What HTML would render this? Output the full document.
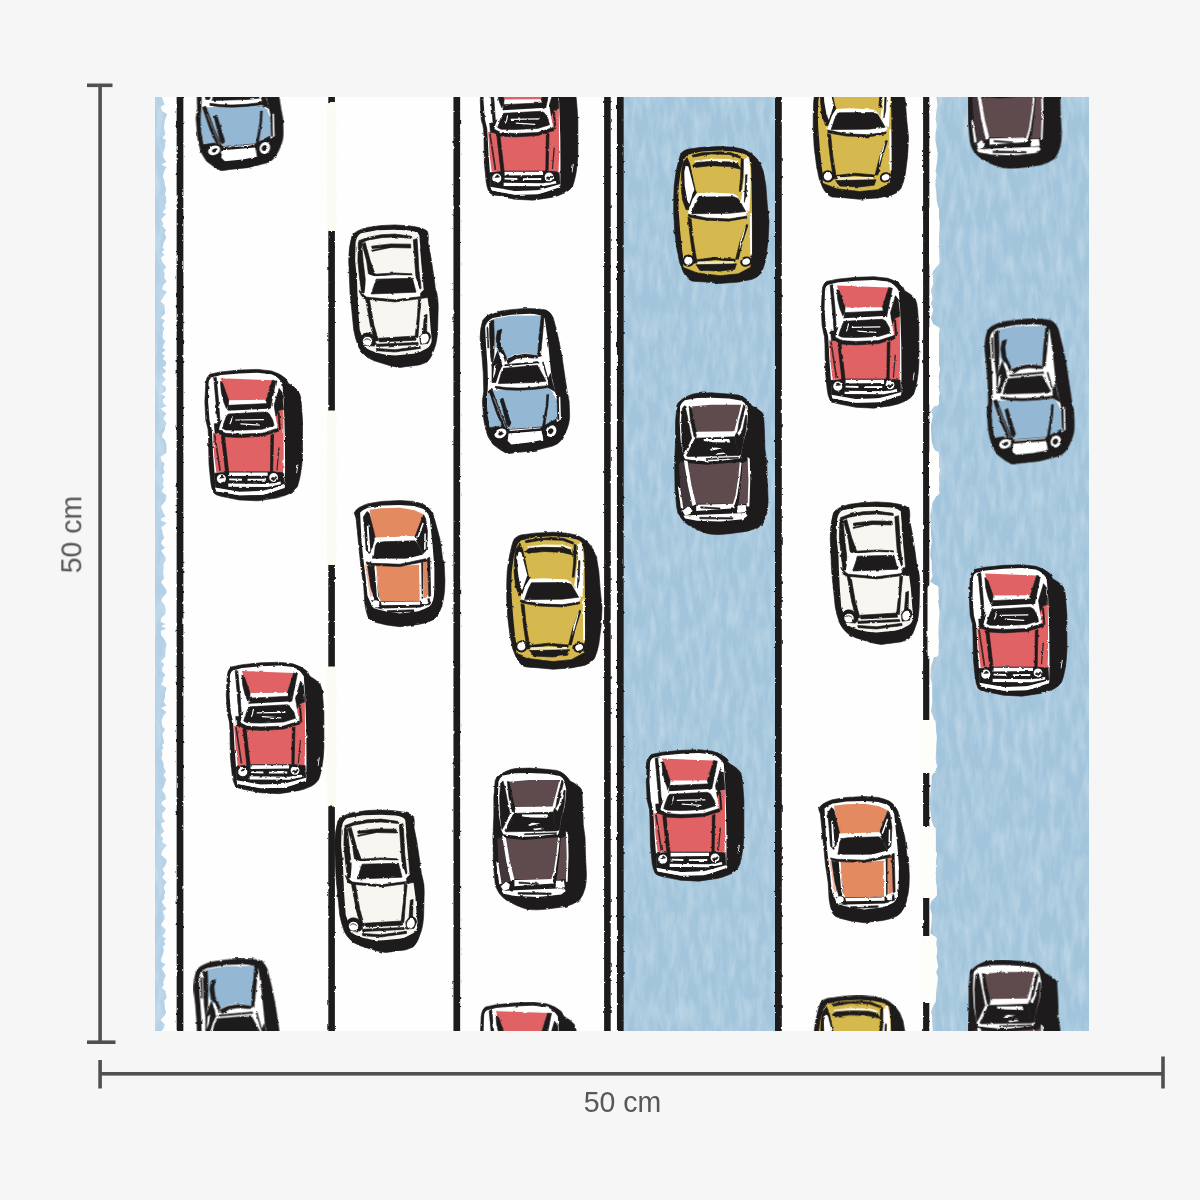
<!DOCTYPE html>
<html lang="en">
<head>
<meta charset="utf-8">
<title>Wallpaper sample 50 cm x 50 cm</title>
<style>
html,body{margin:0;padding:0;background:#f6f6f6;}
body{width:1200px;height:1200px;overflow:hidden;position:relative;font-family:"Liberation Sans",sans-serif;}
svg{position:absolute;left:0;top:0;display:block}
.k{fill:#1d1b1b;stroke:#1d1b1b;stroke-width:7px;stroke-linejoin:round}
.dim{fill:#585858;font-family:"Liberation Sans",sans-serif;font-size:29.6px;}
</style>
</head>
<body>
<svg width="1200" height="1200" viewBox="0 0 1200 1200">
<defs>
<clipPath id="clip"><rect x="155" y="97" width="934" height="934"/></clipPath>
<filter id="rough" x="0" y="0" width="1200" height="1200" filterUnits="userSpaceOnUse" color-interpolation-filters="sRGB">
<feTurbulence type="fractalNoise" baseFrequency="0.2" numOctaves="2" seed="4"/>
<feComponentTransfer result="n"><feFuncR type="linear" slope="2" intercept="-0.5"/><feFuncG type="linear" slope="2" intercept="-0.5"/><feFuncA type="linear" slope="0" intercept="1"/></feComponentTransfer>
<feDisplacementMap in="SourceGraphic" in2="n" scale="1.2" xChannelSelector="R" yChannelSelector="G"/>
</filter>
<filter id="paint" x="0" y="0" width="1200" height="1200" filterUnits="userSpaceOnUse" color-interpolation-filters="sRGB">
<feTurbulence type="fractalNoise" baseFrequency="0.14 0.035" numOctaves="3" seed="7" result="n"/>
<feColorMatrix in="n" type="matrix" values="0 0 0 0 1  0 0 0 0 1  0 0 0 0 1  0.55 0 0 0 -0.2" result="hl"/>
<feComposite in="hl" in2="SourceGraphic" operator="in" result="hl2"/>
<feMerge><feMergeNode in="SourceGraphic"/><feMergeNode in="hl2"/></feMerge>
</filter>
<g id="red"><g transform="scale(0.09167)">
<path class="k" d="M85,200 Q90,130 130,100 L250,75 L450,55 L650,48 L800,65 Q900,95 960,150 L985,200 Q1060,240 1100,290 Q1125,350 1125,400 L1140,600 L1140,982 Q1135,1100 1120,1182 Q1100,1290 1080,1332 Q1050,1375 1000,1402 Q920,1440 850,1452 L650,1482 L450,1472 L250,1432 Q190,1420 170,1392 Q145,1340 140,1282 L120,1082 L115,782 L110,700 L85,600 L75,400 Z"/>
<path fill="#ffffff" d="M115,200 Q118,150 150,135 L250,110 L450,92 L650,85 L800,100 Q880,130 920,200 L935,400 L942,600 L948,800 L950,1100 L948,1300 L940,1330 Q800,1400 700,1415 L450,1420 L200,1375 Q185,1340 182,1200 L165,982 L155,782 L150,700 L125,600 L110,400 Z"/>
<path fill="#e16264" d="M245,145 L810,165 L740,380 L330,385 Z"/>
<path fill="#e16264" d="M160,740 L225,745 L450,790 L870,720 L860,640 L845,560 L880,500 L932,480 L935,1000 L928,1180 L800,1165 L330,1165 L200,1170 L178,1000 Z"/>
<path class="k" d="M872,520 L886,520 L900,700 L886,705 Z"/>
<path class="k" d="M172,140 L200,135 L225,400 L240,620 L215,640 L195,400 Z"/>
<path class="k" d="M245,190 L268,195 L335,385 L330,440 L310,475 L280,400 L255,300 Z"/>
<path class="k" d="M810,165 L850,175 L805,400 L790,470 L760,440 L740,385 Z"/>
<path class="k" d="M885,255 L918,300 L932,480 L880,500 L850,560 L830,440 Z"/>
<path class="k" d="M330,440 L770,420 L790,470 L750,490 L320,510 Z"/>
<path class="k" d="M178,640 L215,640 L260,600 L240,660 L230,700 L225,745 L186,745 Z"/>
<path fill="#ffffff" d="M320,500 L750,478 L790,500 L840,580 L865,660 L850,700 L700,735 L450,745 L300,740 L230,700 L240,660 L290,540 Z"/>
<path class="k" d="M330,535 L740,512 L775,530 L815,600 L830,660 L700,700 L450,712 L300,708 L265,690 L280,640 L310,560 Z"/>
<path fill="none" stroke="#ffffff" stroke-width="13" stroke-linecap="round" d="M372,562 Q368,610 350,640 M412,600 L715,595 M468,642 L670,655"/>
<path class="k" d="M220,705 L300,745 L450,755 L700,745 L870,690 L880,722 L700,778 L450,792 L290,782 L215,742 Z"/>
<path fill="#1d1b1b" fill-opacity=".85" d="M172,760 L190,755 L250,1150 L232,1155 Z M875,900 L890,900 L868,1150 L855,1150 Z"/>
<path class="k" d="M255,775 L290,775 L335,1165 L300,1170 Z M795,765 L825,755 L815,1165 L790,1165 Z"/>
<path class="k" d="M180,1180 L330,1165 L800,1165 L935,1175 L945,1320 L700,1370 L450,1385 L190,1340 Z"/>
<path fill="#ffffff" d="M340,1172 L760,1172 L760,1207 L340,1212 Z M340,1237 L480,1240 L480,1262 L340,1258 Z M540,1242 L740,1240 L740,1262 L540,1262 Z M330,1292 L760,1297 L900,1272 L905,1300 L760,1330 L330,1328 Z"/>
<path fill="#ffffff" d="M185,1337 L450,1382 L700,1377 L950,1307 L945,1342 L700,1417 L450,1422 L200,1377 Z"/>
<circle cx="255" cy="1242" r="58" fill="#ffffff" stroke="#1d1b1b" stroke-width="16"/>
<circle cx="825" cy="1227" r="56" fill="#ffffff" stroke="#1d1b1b" stroke-width="16"/>
<path class="k" d="M235,1235 L262,1205 L285,1230 Z M795,1240 L815,1225 L825,1240 L850,1215 L860,1228 L825,1262 Z"/>
<path fill="#ffffff" d="M1085,1085 L1095,1087 L1080,1180 L1072,1178 Z"/>
</g></g>
<g id="orange"><g transform="scale(0.09167)">
<path class="k" d="M100,195 Q120,160 150,140 Q200,110 250,95 L400,70 L600,60 L750,70 Q830,90 870,110 Q930,145 965,220 L1000,350 L1040,500 L1065,700 L1080,727 L1090,927 Q1090,1050 1075,1127 Q1060,1220 1030,1277 Q1000,1340 950,1367 Q880,1400 800,1412 L600,1437 L450,1417 L330,1387 Q270,1370 250,1327 Q225,1260 215,1177 L205,1000 L175,800 L155,600 L135,400 L120,250 Z"/>
<path fill="#ffffff" d="M165,190 Q200,160 250,140 L400,115 L600,108 L750,120 L850,150 Q900,180 925,250 L940,400 L960,600 L975,800 L975,1000 L970,1100 L960,1147 Q945,1195 920,1217 Q860,1250 800,1267 L600,1292 L450,1272 L320,1237 Q285,1215 280,1177 L245,1100 L225,900 L200,700 L180,500 L170,300 Z"/>
<path fill="#e38a61" d="M268,162 L400,145 L600,140 L760,165 L858,212 L830,280 L770,452 L700,452 L330,465 L300,350 Z"/>
<path fill="#e38a61" d="M340,770 L600,775 L810,760 L820,1100 L815,1160 L380,1165 L360,1000 Z"/>
<path fill="#efb9a4" d="M218,758 L250,758 L305,1100 L272,1100 Z"/>
<path fill="#dc8664" d="M855,722 L902,700 L917,1100 L860,1130 Z"/>
<path class="k" d="M200,240 L240,180 L265,200 L330,460 L300,560 L265,640 L230,600 L215,400 Z"/>
<path fill="#ffffff" d="M238,330 L256,322 L276,600 L252,620 Z"/>
<path class="k" d="M858,215 L880,260 L900,400 L890,600 L850,640 L780,500 L765,450 L830,280 Z"/>
<path fill="#ffffff" d="M845,300 L860,310 L802,470 L787,460 Z M866,420 L882,420 L880,590 L862,600 Z"/>
<path fill="#ffffff" d="M320,465 L770,450 L790,490 L330,510 Z"/>
<path class="k" d="M350,520 L420,510 L760,500 L790,530 L850,650 L820,670 L700,690 L310,690 L320,640 L330,560 Z"/>
<path fill="#ffffff" d="M250,690 L300,700 L600,715 L850,650 L890,640 L870,690 L600,745 L300,735 L240,720 Z"/>
<path class="k" d="M230,730 L300,745 L600,755 L880,695 L900,720 L600,780 L320,770 L240,755 Z"/>
<path class="k" d="M245,765 L320,770 L375,1160 L330,1175 L280,1000 Z M835,740 L850,735 L850,1130 L838,1140 Z M900,690 L925,680 L935,1100 L915,1110 Z"/>
<path fill="#ffffff" d="M320,772 L334,772 L362,1100 L392,1160 L378,1165 L348,1100 Z M810,760 L830,760 L835,1150 L815,1150 Z"/>
<path class="k" d="M290,1150 L380,1165 L815,1160 L920,1130 L930,1190 L820,1235 L450,1250 L330,1230 Z"/>
<path fill="#ffffff" d="M390,1167 L820,1162 L820,1197 L400,1202 Z M400,1237 L820,1227 L900,1197 L900,1217 L820,1257 L450,1272 Z"/>
<path class="k" d="M460,1262 L750,1252 L750,1270 L460,1282 Z"/>
<circle cx="335" cy="1187" r="40" fill="#ffffff"/>
<circle cx="870" cy="1157" r="34" fill="#ffffff"/>
</g></g>
<g id="yellow"><g transform="scale(0.09167)">
<path class="k" d="M95,650 L100,500 L120,350 L150,220 Q165,160 180,140 Q210,110 250,100 L400,80 L600,70 L750,80 L850,100 Q900,120 930,140 L990,190 L1040,260 L1075,350 L1100,500 L1115,700 L1135,890 L1125,1090 L1100,1290 Q1080,1390 1050,1450 Q1010,1500 950,1520 L800,1550 L600,1565 L450,1550 L300,1540 Q270,1530 250,1510 Q220,1480 200,1440 L160,1340 L130,1190 L105,990 L95,790 Z"/>
<path fill="#d5b94e" d="M145,650 L150,500 L170,350 L200,230 Q220,180 250,160 L400,125 L600,115 L750,125 L860,150 Q905,165 920,190 L940,300 L945,500 L950,890 L950,1190 L940,1290 L930,1390 L800,1460 L600,1480 L350,1450 L200,1390 L200,1290 L185,1190 L165,990 L150,790 Z"/>
<path class="k" d="M295,165 L400,140 L600,128 L720,138 L825,180 L820,200 L700,158 L500,152 L305,185 Z"/>
<path fill="#fbf7e2" d="M320,225 L500,205 L700,208 L800,235 L795,255 L700,232 L500,232 L330,252 Z"/>
<path class="k" d="M300,280 L340,245 L500,235 L700,240 L790,260 L830,320 L700,290 L500,280 L330,300 Z"/>
<path class="k" d="M195,250 L240,190 L270,260 L330,540 L345,580 L300,650 L260,760 L230,760 L190,650 L175,500 L180,350 Z"/>
<path fill="#ffffff" d="M225,280 L255,290 L320,540 L265,700 L240,640 L215,500 L210,350 Z"/>
<path class="k" d="M830,200 L855,210 L850,400 L830,560 L810,560 L825,400 Z"/>
<path fill="#ffffff" d="M860,215 L905,180 L925,250 L935,400 L930,600 L920,780 L860,750 L830,650 L845,560 L865,400 Z"/>
<path class="k" d="M880,380 L895,380 L885,600 L865,680 Z"/>
<path fill="#ffffff" d="M345,580 L500,572 L750,585 L790,610 L850,700 L905,790 L880,830 L700,860 L450,850 L265,820 L250,790 L300,650 Z"/>
<path class="k" d="M365,622 L750,618 L800,640 L880,780 L700,800 L290,805 L330,690 Z"/>
<path class="k" d="M255,810 L450,850 L700,862 L890,830 L890,850 L700,885 L450,875 L255,840 Z"/>
<path class="k" d="M250,850 L285,860 L310,1100 L350,1340 L315,1345 L280,1100 Z M890,920 L905,930 L850,1100 L800,1300 L770,1300 L820,1100 Z"/>
<path fill="#ffffff" d="M870,960 L882,942 L842,1100 L812,1200 L822,1100 Z M925,800 L945,800 L950,1250 L930,1250 Z"/>
<path class="k" d="M345,1305 L550,1280 L765,1300 L765,1325 L550,1305 L350,1330 Z"/>
<path fill="#f3eabd" d="M355,1325 L750,1322 L750,1352 L355,1358 Z"/>
<path class="k" d="M340,1361 L780,1351 L760,1411 L600,1431 L380,1421 Z"/>
<path class="k" d="M200,1390 L350,1450 L600,1480 L800,1460 L930,1390 L935,1410 L800,1482 L600,1502 L350,1472 L195,1410 Z" fill-opacity=".0"/>
<circle cx="255" cy="1316" r="56" fill="#ffffff" stroke="#1d1b1b" stroke-width="22"/>
<ellipse cx="885" cy="1326" rx="54" ry="44" fill="#ffffff" stroke="#1d1b1b" stroke-width="22" transform="rotate(-20 885 1326)"/>
</g></g>
<g id="white"><g transform="scale(0.09167)">
<path class="k" d="M95,500 Q95,350 130,230 Q160,170 300,135 L450,115 L600,108 L750,118 Q900,135 950,175 Q970,200 960,300 L990,450 L1020,650 L1040,800 L1065,900 Q1075,1000 1070,1054 L1065,1254 Q1060,1380 1030,1454 Q1000,1560 950,1604 Q880,1640 800,1644 L650,1664 Q550,1650 450,1614 Q360,1590 300,1554 Q230,1500 200,1434 Q165,1340 150,1254 L130,1054 L110,854 Z"/>
<path fill="#f7f6f0" d="M170,300 Q185,220 230,200 L400,165 L600,160 L760,170 Q850,185 865,220 L880,400 L900,600 L930,800 L955,900 L975,1054 L990,1254 Q1000,1330 1000,1374 Q990,1430 950,1454 Q880,1500 800,1514 L600,1534 Q500,1530 400,1504 Q320,1480 270,1444 Q250,1400 250,1354 L215,1254 L200,1054 L190,854 L185,700 L165,500 Z"/>
<path class="k" d="M205,280 L300,245 L450,215 L600,208 L780,232 L785,255 L600,240 L450,248 L300,275 L215,310 Z"/>
<path class="k" d="M200,300 L235,310 L252,500 L275,700 L270,850 L235,850 L215,700 L195,500 Z"/>
<path class="k" d="M240,315 L275,300 L330,500 L385,650 L380,670 L310,640 L290,500 Z"/>
<path class="k" d="M345,340 L550,315 L770,318 L772,360 L550,355 L350,365 Z M345,385 L545,345 L548,355 L348,397 Z"/>
<path class="k" d="M800,270 L840,258 L850,400 L860,600 L885,800 L850,820 L830,700 L815,500 Z"/>
<path class="k" d="M878,370 L892,370 L935,800 L955,900 L930,860 L915,800 Z"/>
<path class="k" d="M380,645 L600,632 L785,642 L785,660 L600,650 L385,668 Z"/>
<path fill="#ffffff" d="M300,655 L390,668 L780,658 L830,688 L882,850 L862,888 L600,912 L285,892 L262,878 Z"/>
<path class="k" d="M395,700 L790,690 L830,842 L340,862 Z"/>
<path class="k" d="M275,895 L600,925 L875,890 L878,912 L600,948 L280,918 Z"/>
<path class="k" d="M210,820 L265,878 L285,892 L280,918 L240,900 Z M880,850 L935,800 L955,900 L878,912 Z"/>
<path class="k" d="M280,920 L320,915 L370,1200 L420,1370 L380,1380 L330,1200 Z M855,915 L885,925 L868,1100 L850,1335 L818,1335 L845,1100 Z"/>
<path class="k" d="M920,1094 L950,1084 L945,1274 L905,1294 Z"/>
<path class="k" d="M420,1345 L820,1320 L830,1365 L430,1385 Z"/>
<path class="k" d="M395,1410 L850,1390 L855,1412 L400,1435 Z M395,1455 L600,1470 L875,1432 L880,1455 L600,1495 L400,1480 Z"/>
<path class="k" d="M225,1340 Q250,1270 330,1290 Q380,1310 400,1400 L370,1430 L250,1420 Z"/>
<ellipse cx="300" cy="1375" rx="52" ry="48" fill="#ffffff"/>
<path fill="none" stroke="#1d1b1b" stroke-width="9" d="M262,1370 Q290,1330 335,1370"/>
<path class="k" d="M870,1340 Q890,1280 940,1270 Q985,1280 990,1330 L960,1400 L880,1410 Z"/>
<ellipse cx="925" cy="1348" rx="42" ry="55" fill="#ffffff" transform="rotate(20 925 1348)"/>
</g></g>
<g id="brown"><g transform="scale(0.09167)">
<path class="k" d="M130,220 Q140,195 160,180 Q200,140 250,120 Q300,95 350,90 L500,85 L650,95 L800,110 Q850,125 880,150 Q920,180 950,230 Q1000,250 1020,270 Q1070,300 1075,330 L1085,500 L1090,700 L1110,845 L1115,1045 L1125,1245 Q1125,1330 1110,1395 Q1090,1470 1050,1525 Q980,1575 900,1595 L700,1622 Q560,1640 470,1622 Q380,1600 250,1525 Q200,1490 170,1445 Q140,1400 130,1345 L110,1145 L105,845 L115,600 L115,400 Z"/>
<path fill="#ffffff" d="M165,230 Q185,185 215,165 L350,142 L500,138 L700,148 L835,172 Q870,190 885,225 L905,320 L890,500 L850,640 L830,760 L820,800 L600,835 L450,835 L220,810 L200,770 L170,600 L160,400 Z"/>
<path fill="#5f4b4d" d="M285,235 L500,215 L830,215 L810,300 L755,505 L350,510 L320,400 Z"/>
<path class="k" d="M190,250 L215,225 L235,300 L290,580 L225,720 L200,760 L185,600 L178,400 Z"/>
<path class="k" d="M262,232 L285,235 L320,400 L348,510 L338,575 L318,565 L280,400 Z"/>
<path class="k" d="M330,590 L335,580 L260,740 L250,780 L235,770 L300,640 Z"/>
<path class="k" d="M858,215 L875,240 L860,300 L820,470 L790,520 L810,400 Z"/>
<path class="k" d="M880,330 L895,330 L882,500 L848,640 L828,760 L800,770 L790,740 L762,565 L780,520 L810,560 L850,480 Z"/>
<path class="k" d="M335,580 L760,565 L790,740 L800,770 L250,780 L260,740 Z"/>
<path fill="#ffffff" d="M420,590 L700,588 L712,628 L520,625 L425,612 Z M490,702 L540,682 L622,690 L502,716 Z M540,746 L640,736 L662,750 L560,762 Z"/>
<path class="k" d="M450,802 L800,790 L800,798 L450,812 Z"/>
<path class="k" d="M215,815 L450,845 L820,810 L822,838 L450,872 L215,842 Z"/>
<path fill="#5f4b4d" d="M250,850 L450,870 L815,840 L800,1000 L770,1200 L745,1295 L335,1295 L290,1100 Z"/>
<path fill="#43363a" d="M152,860 L205,835 L250,1100 L300,1320 L205,1350 L165,1100 Z"/>
<path fill="#ffffff" d="M205,820 L245,830 L290,1100 L340,1300 L300,1320 L250,1100 Z"/>
<path fill="#ffffff" d="M815,840 L835,850 L820,1000 L790,1200 L760,1310 L740,1300 L770,1200 L800,1000 Z"/>
<path fill="#5f4b4d" d="M845,850 L900,825 L915,1045 L900,1295 L800,1305 L830,1045 Z"/>
<path fill="#ffffff" d="M900,785 L925,805 L930,1045 L920,1325 L900,1325 L910,1045 Z"/>
<path fill="#ffffff" d="M140,1105 L165,1125 L200,1345 L175,1355 Z"/>
<path fill="#ffffff" d="M340,1305 L750,1295 L760,1345 L340,1375 Z"/>
<path class="k" d="M390,1328 L600,1343 L600,1355 L390,1342 Z"/>
<path fill="#ffffff" d="M190,1375 L250,1325 L290,1355 L280,1405 L220,1425 Z M790,1315 L880,1310 L890,1385 L790,1395 Z"/>
<path fill="#ffffff" d="M200,1425 L400,1415 L880,1395 L900,1425 L850,1465 L600,1490 L350,1480 L220,1455 Z"/>
<path class="k" d="M380,1443 L740,1448 L740,1463 L380,1460 Z"/>
</g></g>
<g id="blue"><g transform="scale(0.09167)">
<path class="k" d="M110,420 Q112,300 140,220 Q170,165 300,125 L450,105 L600,92 Q760,92 830,110 Q885,135 910,200 L960,400 L1000,600 L1030,800 L1060,1000 L1080,1100 Q1090,1250 1085,1300 Q1075,1400 1000,1524 Q960,1575 900,1594 L700,1644 L500,1664 Q420,1680 400,1674 Q330,1640 250,1574 Q200,1500 190,1474 Q160,1380 150,1304 L135,1104 L150,1000 L145,800 L130,600 Z"/>
<path fill="#ffffff" d="M165,300 Q175,230 250,195 L450,160 L650,150 Q780,155 815,200 L850,450 L870,650 L885,800 L930,1000 L965,1150 L992,1300 L950,1330 L780,1400 L430,1420 L215,1390 L188,1154 L190,1054 L196,900 L190,700 L175,500 Z"/>
<path fill="#94b7d3" d="M262,205 L450,172 L782,168 L755,400 L735,600 L600,580 L480,598 L400,640 L330,640 L270,500 L262,300 Z"/>
<path fill="#94b7d3" d="M200,985 L300,985 L860,960 L905,1010 L950,1110 L958,1295 L850,1355 L780,1385 L430,1414 L330,1375 L222,1395 L190,1255 L190,1055 Z"/>
<path class="k" d="M948,1080 L966,1085 L976,1300 L958,1305 Z"/>
<path class="k" d="M212,235 L258,215 L265,400 L262,600 L240,720 L225,600 L215,400 Z"/>
<path class="k" d="M185,300 L195,295 L205,520 L195,525 Z"/>
<path class="k" d="M300,335 L348,318 L330,400 L340,500 L400,630 L370,650 L300,520 L285,420 Z"/>
<path class="k" d="M240,720 L300,560 L330,640 L395,650 L350,725 L320,790 L285,900 L240,900 Z"/>
<path fill="#ffffff" d="M330,560 Q360,600 375,650 L385,700 L350,715 Q345,640 318,590 Z M262,720 L290,700 L275,800 L250,860 Z"/>
<path class="k" d="M395,650 L480,610 L600,590 L730,605 L740,640 L600,625 L500,640 L420,690 Z"/>
<path fill="#ffffff" d="M470,665 L745,635 L750,665 L480,695 Z"/>
<path class="k" d="M380,705 L750,672 L752,690 L380,722 Z"/>
<path class="k" d="M778,170 L808,185 L790,400 L768,610 L738,620 L752,400 Z"/>
<path class="k" d="M790,680 L800,675 L850,860 L880,800 L900,900 L930,1000 L860,960 L850,880 Z"/>
<path fill="#ffffff" d="M350,725 L740,690 L770,720 L850,880 L840,920 L700,955 L450,965 L290,945 L285,900 L320,790 Z"/>
<path class="k" d="M365,745 L735,712 L830,885 L700,900 L310,912 L340,800 Z"/>
<path class="k" d="M285,942 Q500,985 860,932 L862,955 Q500,1008 288,965 Z"/>
<path class="k" d="M205,985 L240,975 L330,1215 L430,1445 L395,1465 L290,1235 Z"/>
<path fill="none" stroke="#ffffff" stroke-width="5" d="M255,1060 L400,1420"/>
<path class="k" d="M330,1085 L360,1070 L445,1345 L425,1385 L400,1355 Z"/>
<path class="k" d="M838,1030 L858,1027 L850,1155 L815,1375 L790,1385 L830,1155 Z"/>
<path fill="#ffffff" d="M968,1055 L985,1055 L992,1300 L975,1305 Z"/>
<path class="k" d="M215,1395 L330,1375 L430,1414 L780,1385 L940,1300 L960,1420 L900,1520 L640,1560 L420,1580 L300,1540 L230,1470 Z"/>
<path fill="#ffffff" d="M420,1455 L780,1425 L800,1525 L640,1555 L450,1575 L410,1535 Z"/>
<path fill="#ffffff" d="M432,1416 L770,1390 L772,1400 L434,1428 Z"/>
<ellipse cx="332" cy="1455" rx="68" ry="50" fill="#ffffff" transform="rotate(-22 332 1455)"/>
<ellipse cx="338" cy="1455" rx="32" ry="19" fill="#1d1b1b" transform="rotate(-25 338 1455)"/>
<ellipse cx="885" cy="1430" rx="56" ry="66" fill="#ffffff" transform="rotate(25 885 1430)"/>
<ellipse cx="880" cy="1430" rx="27" ry="32" fill="#1d1b1b" transform="rotate(35 880 1430)"/>
</g></g>
</defs>
<rect width="1200" height="1200" fill="#f6f6f6"/>
<g clip-path="url(#clip)">
<rect x="155" y="97" width="934" height="934" fill="#fefefe"/>
<g filter="url(#paint)">
<path d="M155,97 L162.0,97.0 L162.9,100.6 L164.6,104.4 L160.6,106.6 L162.2,111.2 L167.0,113.9 L165.9,117.3 L164.7,120.7 L164.6,123.1 L163.9,127.8 L164.9,132.0 L165.4,134.2 L162.5,137.9 L166.1,140.0 L165.2,143.5 L165.1,148.1 L163.1,152.9 L163.4,157.3 L166.2,162.1 L161.4,164.4 L166.8,167.0 L164.6,170.3 L163.8,173.2 L162.8,176.4 L164.3,180.1 L164.9,184.8 L166.1,189.6 L164.9,194.6 L166.1,197.1 L166.4,202.0 L165.1,205.7 L165.9,208.3 L162.4,212.0 L166.1,214.2 L161.1,219.2 L163.2,223.6 L162.4,226.1 L166.2,230.4 L164.5,232.5 L165.2,234.6 L166.2,237.6 L163.8,242.6 L162.5,247.6 L164.4,249.8 L161.8,251.9 L164.5,255.1 L160.8,257.6 L162.5,262.2 L166.3,267.1 L163.5,270.2 L164.7,273.8 L164.1,277.5 L166.6,281.4 L163.3,284.9 L162.0,289.1 L166.9,292.0 L164.1,295.6 L163.2,297.6 L160.6,301.3 L164.6,305.2 L164.6,307.4 L164.9,310.8 L165.1,313.8 L160.6,318.0 L164.9,320.2 L162.1,325.1 L164.4,328.5 L162.9,331.4 L162.9,334.4 L162.5,338.1 L165.5,341.3 L164.2,343.4 L162.5,347.6 L165.7,350.2 L161.7,353.0 L165.0,356.3 L162.6,358.6 L165.9,361.6 L166.1,364.9 L162.7,367.4 L166.3,371.3 L162.0,374.7 L163.9,377.1 L165.7,379.6 L161.7,384.1 L165.7,387.0 L165.7,390.9 L161.3,393.9 L165.7,396.8 L162.8,399.6 L163.2,402.9 L166.5,406.1 L160.5,408.6 L166.2,413.4 L163.3,418.4 L166.5,423.2 L165.3,425.9 L164.8,430.4 L162.4,433.9 L162.0,437.0 L164.3,439.2 L165.8,442.0 L166.4,444.2 L166.5,448.3 L166.3,452.9 L160.6,456.7 L161.6,460.9 L164.8,463.8 L163.2,467.4 L164.5,472.2 L162.1,475.2 L163.6,479.8 L162.8,484.2 L164.0,486.8 L161.6,491.2 L166.5,495.6 L165.9,500.0 L164.6,502.0 L160.8,506.6 L162.2,509.4 L163.2,513.0 L165.5,516.4 L160.9,518.4 L161.3,520.8 L166.8,523.0 L161.1,527.6 L162.6,531.1 L162.8,534.0 L164.3,538.0 L161.7,541.0 L161.3,544.0 L165.2,547.7 L161.0,550.8 L162.9,553.4 L165.6,557.2 L165.7,560.3 L163.3,564.2 L163.7,567.3 L163.2,571.4 L163.5,575.5 L164.0,578.2 L161.0,582.3 L163.3,585.6 L166.6,590.2 L166.3,593.4 L162.2,597.7 L161.3,601.1 L164.8,605.6 L165.7,610.2 L165.3,614.2 L161.2,617.9 L160.5,621.7 L165.5,624.1 L161.1,626.3 L166.2,628.5 L160.7,631.1 L161.3,635.6 L164.9,640.1 L166.7,644.7 L165.7,648.4 L165.5,650.5 L165.1,654.0 L165.4,656.4 L160.9,661.2 L164.2,664.1 L162.1,668.6 L162.1,671.2 L165.4,675.0 L162.9,678.2 L162.8,681.4 L161.0,684.6 L166.8,688.1 L165.4,691.4 L165.0,693.8 L164.9,698.1 L163.6,701.7 L166.3,705.6 L161.1,708.0 L166.5,712.3 L163.4,715.8 L161.7,720.0 L161.8,722.8 L162.5,726.6 L165.0,729.3 L162.4,734.1 L163.2,738.2 L164.3,742.8 L161.9,745.6 L163.6,747.7 L161.6,750.8 L162.6,753.9 L161.4,758.2 L163.6,763.2 L163.5,767.0 L165.8,771.5 L163.6,775.2 L166.1,779.3 L165.3,782.5 L163.5,787.4 L162.0,790.1 L164.9,794.2 L166.1,799.1 L161.7,801.8 L161.7,804.6 L166.1,808.7 L162.2,813.4 L162.5,818.0 L165.2,821.3 L161.1,823.6 L162.4,828.1 L164.3,831.1 L160.5,835.2 L163.3,838.2 L161.9,841.6 L166.7,845.4 L164.0,848.5 L162.3,850.9 L161.2,854.9 L166.4,859.6 L166.6,861.9 L165.5,865.0 L162.4,869.2 L164.8,873.3 L162.2,877.7 L166.7,882.0 L164.0,886.0 L163.7,888.3 L165.2,891.4 L164.2,895.4 L164.7,898.0 L161.7,901.8 L164.8,906.5 L166.6,908.9 L162.7,911.3 L164.4,915.5 L164.7,919.1 L162.5,922.5 L160.9,925.0 L165.4,929.2 L165.3,932.8 L162.2,935.9 L166.2,939.0 L163.8,941.2 L165.5,943.9 L162.7,947.0 L164.0,950.2 L162.8,954.5 L161.2,959.0 L161.1,961.8 L165.6,964.2 L161.7,968.4 L163.2,970.9 L165.8,975.2 L164.3,979.4 L163.1,981.9 L163.9,984.4 L161.8,988.1 L165.6,990.9 L165.7,993.0 L166.7,997.7 L164.1,1000.8 L164.6,1004.6 L165.0,1009.5 L166.1,1012.4 L164.4,1015.8 L160.5,1020.0 L164.8,1024.3 L163.9,1027.8 L161.8,1031.0 L155,1031 Z" fill="#b3d0e6"/>
<rect x="622" y="97" width="155" height="934" fill="#a2c5dc"/>
<path d="M1089,97 L936.4,97.0 L937.6,104.4 L936.5,111.2 L935.7,118.7 L936.8,125.7 L935.4,134.5 L935.4,140.3 L937.0,149.2 L937.8,153.4 L936.9,163.2 L935.6,170.9 L936.6,175.0 L935.7,179.4 L935.3,184.8 L936.3,191.6 L936.8,200.7 L938.5,208.5 L938.4,216.5 L939.8,222.1 L939.4,232.1 L938.0,240.4 L938.0,245.7 L939.2,250.2 L939.4,256.6 L939.7,262.9 L932.4,272.0 L933.1,277.2 L933.2,284.0 L930.9,290.4 L932.7,298.2 L930.9,303.8 L933.2,309.8 L931.0,318.4 L933.1,323.8 L939.8,328.2 L939.2,333.3 L938.2,340.0 L938.0,348.3 L938.0,356.2 L938.3,362.7 L940.2,368.4 L938.5,377.2 L938.2,386.5 L939.9,392.8 L938.0,400.7 L931.3,410.6 L932.7,416.2 L931.5,422.2 L930.9,426.6 L931.3,434.1 L931.7,441.7 L933.9,448.4 L939.2,455.3 L938.2,464.5 L940.1,469.4 L938.3,478.4 L939.6,483.5 L938.2,493.1 L932.5,502.8 L931.3,510.5 L930.3,515.1 L930.8,524.9 L930.9,533.1 L931.8,542.0 L930.7,547.8 L930.4,556.1 L931.7,561.5 L931.8,570.6 L932.6,576.3 L930.2,581.5 L938.4,587.1 L937.7,591.5 L938.7,597.7 L938.1,602.5 L939.7,611.8 L939.0,619.8 L937.6,627.3 L937.2,631.5 L939.0,640.9 L937.3,650.7 L933.5,658.5 L931.0,666.9 L930.4,676.9 L932.1,684.2 L932.1,693.6 L932.3,701.8 L931.1,711.3 L934.1,719.4 L935.8,728.6 L936.9,737.4 L936.3,744.8 L936.2,751.1 L934.9,758.8 L937.3,766.6 L931.7,775.9 L931.6,782.2 L930.8,789.7 L929.9,798.7 L929.8,807.2 L931.0,814.8 L931.5,820.2 L934.1,827.2 L935.4,836.7 L935.5,840.8 L935.2,848.9 L937.1,853.9 L935.8,861.8 L935.6,871.2 L935.2,879.2 L936.8,885.8 L937.0,895.3 L931.2,901.6 L930.1,907.5 L931.9,914.4 L931.5,923.5 L930.4,933.2 L936.9,938.3 L936.3,943.9 L937.3,950.4 L936.5,957.4 L938.3,966.4 L935.9,973.1 L938.0,977.3 L937.5,981.5 L936.5,989.0 L935.7,997.7 L935.0,1002.5 L932.9,1006.7 L931.1,1012.1 L932.3,1016.4 L932.3,1023.1 L932.8,1031.0 L932.0,1031.0 L1089,1031 Z" fill="#a2c5dc"/>
</g>
<g filter="url(#rough)">
<g fill="#1d1b1b">
<rect x="176.65" y="90" width="6.7" height="950"/>
<rect x="453.45" y="90" width="6.7" height="950"/>
<rect x="604.10" y="90" width="6.6" height="950"/>
<rect x="616.95" y="90" width="6.7" height="950"/>
<rect x="775.00" y="90" width="6.8" height="950"/>
<rect x="328.30" y="90" width="6.6" height="950"/>
<rect x="923.10" y="90" width="6.2" height="950"/>
</g>
<rect x="929" y="206" width="10" height="60" rx="3.5" fill="#fefefc"/>
<rect x="929" y="326" width="10" height="80" rx="3.5" fill="#fefefc"/>
<rect x="929" y="451" width="10" height="45" rx="3.5" fill="#fefefc"/>
<rect x="927.5" y="585" width="11" height="72" rx="3.5" fill="#fefefc"/>
<rect x="326.80" y="102" width="9.6" height="129" rx="2" fill="#fbfaf3"/>
<rect x="326.80" y="410.5" width="9.6" height="154.5" rx="2" fill="#fbfaf3"/>
<rect x="326.80" y="666.5" width="9.6" height="140.0" rx="2" fill="#fbfaf3"/>
<rect x="921.60" y="720" width="14.2" height="53" rx="2" fill="#fdfdf9"/>
<rect x="921.60" y="827" width="14.2" height="71" rx="2" fill="#fdfdf9"/>
<rect x="921.60" y="936" width="14.2" height="67" rx="2" fill="#fdfdf9"/>
<use href="#red" x="198.0" y="365.0"/>
<use href="#red" x="219.4" y="657.8"/>
<use href="#red" x="473.4" y="64.3"/>
<use href="#red" x="473.4" y="997.8"/>
<use href="#red" x="639.4" y="745.3"/>
<use href="#red" x="814.4" y="272.3"/>
<use href="#red" x="962.4" y="560.3"/>
<use href="#orange" x="345.0" y="495.0"/>
<use href="#orange" x="809.4" y="791.0"/>
<use href="#yellow" x="665.0" y="140.0"/>
<use href="#yellow" x="498.0" y="525.8"/>
<use href="#yellow" x="804.5" y="55.8"/>
<use href="#yellow" x="804.5" y="989.3"/>
<use href="#brown" x="665.0" y="385.0"/>
<use href="#brown" x="483.3" y="760.3"/>
<use href="#brown" x="958.3" y="18.8"/>
<use href="#brown" x="958.3" y="952.3"/>
<use href="#blue" x="470.0" y="300.0"/>
<use href="#blue" x="183.7" y="16.9"/>
<use href="#blue" x="183.7" y="950.4"/>
<use href="#blue" x="974.7" y="310.4"/>
<use href="#white" x="340.0" y="215.0"/>
<use href="#white" x="326.0" y="800.0"/>
<use href="#white" x="821.5" y="492.0"/>
</g>
</g>
<g fill="#505050">
<rect x="98.3" y="84" width="3.6" height="959.5"/>
<rect x="87" y="83.5" width="25.5" height="3.6"/>
<rect x="87" y="1040.4" width="28.5" height="3.6"/>
<rect x="98.3" y="1060" width="3.6" height="28.5"/>
<rect x="100" y="1072" width="1063" height="3.6"/>
<rect x="1161.2" y="1056.5" width="3.6" height="32"/>
</g>
<g opacity="0.999">
<text class="dim" x="583.8" y="1111.8" textLength="77.5" lengthAdjust="spacingAndGlyphs">50 cm</text>
<text class="dim" transform="translate(81.3 573.3) rotate(-90)" textLength="77.5" lengthAdjust="spacingAndGlyphs">50 cm</text>
</g>
</svg>
</body>
</html>
